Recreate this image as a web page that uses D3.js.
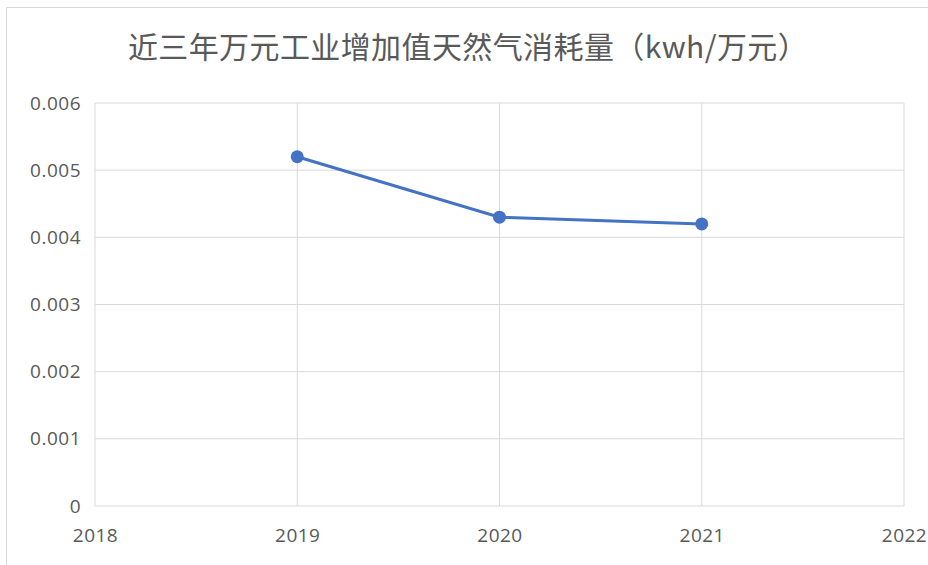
<!doctype html>
<html lang="zh">
<head>
<meta charset="utf-8">
<script src="https://cdnjs.cloudflare.com/ajax/libs/d3/7.8.5/d3.min.js"></script>
<style>
  body { margin: 0; background: #fff; font-family: "Noto Sans CJK SC", "Noto Sans", sans-serif; }
  .tick text { fill: #595959; font-size: 19px; letter-spacing: 0.5px; font-family: "Open Sans", "Noto Sans", sans-serif; }
</style>
</head>
<body>
<script>
// data
const years = [2019, 2020, 2021];
const values = [0.0052, 0.0043, 0.0042];
const xTicks = [2018, 2019, 2020, 2021, 2022];
const yTicks = [0, 0.001, 0.002, 0.003, 0.004, 0.005, 0.006];
const title = "近三年万元工业增加值天然气消耗量（kwh/万元）";

const w = 928, h = 565;
const plotLeft = 95, plotRight = 904, plotTop = 103, plotBottom = 506;

const svg = d3.select("body").append("svg")
  .attr("width", w)
  .attr("height", h);

// chart frame
svg.append("rect")
  .attr("x", 6.5).attr("y", 7.5)
  .attr("width", w + 10).attr("height", h + 10)
  .attr("fill", "#fff")
  .attr("stroke", "#d9d9d9");

const x = d3.scaleLinear().domain([2018, 2022]).range([plotLeft, plotRight]);
const y = d3.scaleLinear().domain([0, 0.006]).range([plotBottom, plotTop]);

// horizontal grid
svg.append("g")
  .selectAll("line")
  .data(yTicks)
  .enter()
  .append("line")
  .attr("x1", plotLeft).attr("x2", plotRight)
  .attr("y1", d => y(d)).attr("y2", d => y(d))
  .attr("stroke", "#d9d9d9");

// vertical grid
svg.append("g")
  .selectAll("line")
  .data(xTicks)
  .enter()
  .append("line")
  .attr("x1", d => x(d)).attr("x2", d => x(d))
  .attr("y1", plotTop).attr("y2", plotBottom)
  .attr("stroke", "#d9d9d9");

// y axis labels
const yAxis = d3.axisLeft(y).tickValues(yTicks).tickSize(0).tickPadding(14)
  .tickFormat(d => d === 0 ? "0" : d3.format(".3f")(d));
svg.append("g")
  .attr("transform", "translate(" + plotLeft + ",0)")
  .call(yAxis)
  .call(g => g.select(".domain").remove());

// x axis labels
const xAxis = d3.axisBottom(x).tickValues(xTicks).tickSize(0).tickPadding(23)
  .tickFormat(d3.format("d"));
svg.append("g")
  .attr("transform", "translate(0," + plotBottom + ")")
  .call(xAxis)
  .call(g => g.select(".domain").remove());

// line
const line = d3.line()
  .x((d, i) => x(years[i]))
  .y(d => y(d));

svg.append("path")
  .datum(values)
  .attr("d", line)
  .attr("fill", "none")
  .attr("stroke", "#4472c4")
  .attr("stroke-width", 3);

svg.selectAll("circle.dot")
  .data(values)
  .enter()
  .append("circle")
  .attr("class", "dot")
  .attr("cx", (d, i) => x(years[i]))
  .attr("cy", d => y(d))
  .attr("r", 6.5)
  .attr("fill", "#4472c4");

// title
svg.append("text")
  .attr("x", 468)
  .attr("y", 58)
  .attr("text-anchor", "middle")
  .attr("fill", "#595959")
  .style("font-size", "30px")
  .style("letter-spacing", "0.4px")
  .text(title);
</script>
</body>
</html>
